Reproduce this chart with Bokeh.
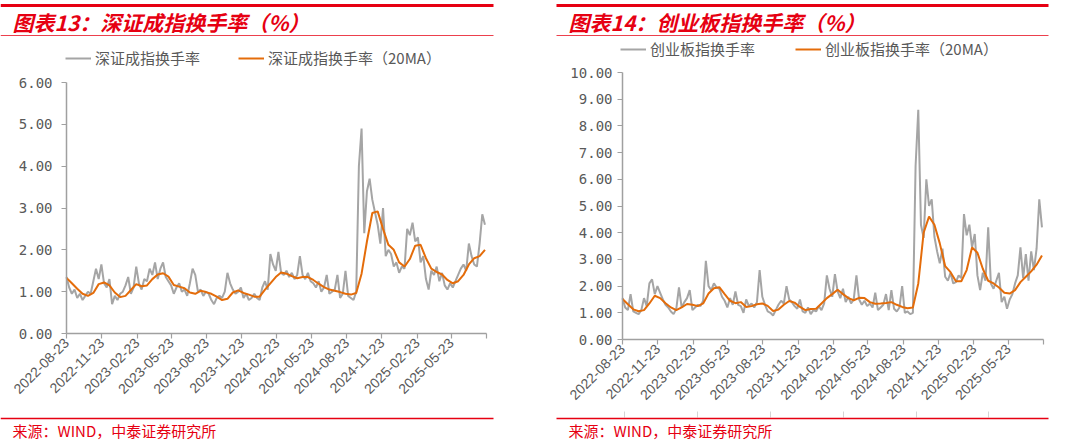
import pandas as pd
from bokeh.plotting import figure
from bokeh.layouts import row
from bokeh.models import (Range1d, FixedTicker, DatetimeTickFormatter, Legend,
                          LegendItem, NumeralTickFormatter, ColumnDataSource)
from bokeh.embed import file_html
from bokeh.resources import INLINE
from bokeh.core.properties import value

# ---------------- data (weekly turnover, bi-weekly 20MA) ----------------
series_start = "2022-08-23"

szcz_turnover = [
    1.35, 1.10, 0.95, 1.05, 0.85, 0.95, 0.80, 0.90, 1.00, 0.95,
    1.25, 1.55, 1.30, 1.65, 1.20, 1.10, 1.30, 0.70, 0.90, 0.80,
    0.95, 1.00, 1.15, 1.35, 0.95, 1.10, 1.60, 1.20, 1.05, 1.30,
    1.25, 1.55, 1.40, 1.70, 1.30, 1.55, 1.70, 1.35, 1.25, 1.15,
    0.95, 1.10, 1.20, 1.00, 1.05, 0.90, 1.20, 1.55, 1.40, 1.00,
    1.05, 0.90, 1.00, 0.95, 0.80, 0.70, 0.85, 0.90, 0.85, 1.00,
    1.45, 1.20, 1.05, 0.95, 1.00, 1.10, 0.85, 0.95, 0.80, 0.85,
    0.95, 0.85, 0.80, 1.10, 1.25, 1.05, 1.90, 1.65, 1.50, 1.95,
    1.45, 1.40, 1.50, 1.35, 1.45, 1.30, 1.40, 1.85, 1.40, 1.30,
    1.45, 1.25, 1.20, 1.10, 1.25, 1.00, 1.10, 1.40, 0.95, 1.00,
    1.05, 1.40, 0.85, 0.95, 1.50, 0.90, 0.85, 0.80, 1.00, 4.00,
    4.90, 2.40, 3.40, 3.70, 3.20, 2.90, 2.60, 2.15, 3.00, 1.85,
    2.00, 1.90, 1.60, 1.70, 1.45, 1.60, 1.55, 2.50, 2.35, 2.65,
    2.20, 2.30, 1.70, 1.85, 1.30, 1.05, 1.50, 1.40, 1.60, 1.25,
    1.45, 1.15, 1.05, 1.20, 1.10, 1.25, 1.40, 1.55, 1.65, 1.50,
    2.15, 1.85, 1.65, 1.60, 2.15, 2.85, 2.60,
]
szcz_ma20 = [
    1.33, 1.20, 1.07, 0.95, 0.90, 0.97, 1.18, 1.22, 1.15, 0.98,
    0.87, 0.90, 1.04, 1.18, 1.13, 1.15, 1.30, 1.41, 1.44, 1.36,
    1.16, 1.12, 1.08, 0.98, 0.95, 1.02, 0.99, 0.95, 0.88, 0.80,
    0.83, 0.98, 1.03, 0.97, 0.93, 0.88, 0.88, 1.05, 1.20, 1.35,
    1.46, 1.43, 1.37, 1.32, 1.35, 1.35, 1.28, 1.19, 1.11, 1.05,
    1.02, 0.99, 0.95, 0.93, 0.97, 1.43, 2.20, 2.88, 2.92, 2.50,
    2.12, 2.00, 1.70, 1.60, 1.78, 2.10, 2.12, 1.80, 1.55, 1.47,
    1.41, 1.28, 1.20, 1.25, 1.40, 1.65, 1.80, 1.85, 2.00,
]
cyb_turnover = [
    1.55, 1.20, 1.10, 1.70, 1.05, 1.00, 0.95, 1.10, 1.55, 1.25,
    2.10, 2.25, 1.70, 2.00, 1.75, 1.50, 1.30, 1.20, 1.05, 0.95,
    1.15, 1.95, 1.20, 1.40, 1.55, 1.85, 1.10, 1.20, 1.30, 1.25,
    1.45, 2.95, 2.00, 1.85, 2.10, 1.95, 1.90, 1.60, 1.45, 1.20,
    1.55, 1.30, 1.80, 1.30, 1.25, 1.00, 1.50, 1.25, 1.35, 1.20,
    1.40, 2.60, 1.60, 1.30, 1.05, 1.00, 0.90, 1.10, 1.30, 1.45,
    1.35, 2.00, 1.50, 1.40, 1.25, 1.15, 1.50, 1.05, 1.00, 1.20,
    0.95, 1.10, 1.05, 1.25, 1.10, 1.35, 2.40, 1.90, 1.60, 2.45,
    1.80, 1.55, 1.90, 1.40, 1.60, 1.35, 1.50, 2.40, 1.50, 1.30,
    1.45, 1.25, 1.35, 1.20, 1.75, 1.10, 1.20, 1.30, 1.70, 1.10,
    1.85, 1.15, 1.05, 1.20, 2.00, 1.00, 1.05, 0.95, 1.00, 6.50,
    8.60, 4.30, 3.80, 6.00, 5.00, 5.25, 3.85, 3.30, 2.85, 3.40,
    2.35, 2.20, 2.50, 2.10, 2.15, 2.40, 2.30, 4.70, 3.90, 4.30,
    3.45, 3.95, 2.40, 1.85, 2.50, 2.20, 4.20, 2.10, 1.90, 2.20,
    2.50, 1.40, 1.60, 1.15, 1.50, 1.70, 2.10, 2.40, 3.45, 2.30,
    3.20, 2.20, 3.30, 2.60, 3.40, 5.25, 4.20,
]
cyb_ma20 = [
    1.52, 1.32, 1.13, 1.06, 1.10, 1.35, 1.64, 1.55, 1.36, 1.20,
    1.10, 1.20, 1.33, 1.30, 1.25, 1.35, 1.72, 1.92, 1.96, 1.70,
    1.45, 1.36, 1.40, 1.22, 1.25, 1.32, 1.35, 1.26, 1.07, 1.12,
    1.30, 1.44, 1.38, 1.22, 1.10, 1.14, 1.15, 1.35, 1.55, 1.70,
    1.86, 1.70, 1.55, 1.47, 1.56, 1.55, 1.40, 1.34, 1.35, 1.37,
    1.40, 1.30, 1.22, 1.17, 1.20, 2.10, 4.00, 4.60, 4.30, 3.60,
    2.75, 2.52, 2.18, 2.18, 2.60, 3.45, 3.25, 2.65, 2.20, 2.10,
    1.95, 1.75, 1.72, 1.85, 2.15, 2.35, 2.55, 2.80, 3.15,
]
tick_dates = ["2022-08-23", "2022-11-23", "2023-02-23", "2023-05-23",
              "2023-08-23", "2023-11-23", "2024-02-23", "2024-05-23",
              "2024-08-23", "2024-11-23", "2025-02-23", "2025-05-23",
              "2025-08-23"]

RED = "#e60012"
GRAY = "#a5a5a5"
ORANGE = "#e46c0a"
TXT = "#595959"
AXC = "#a0a0a0"
CJK = "Noto Sans CJK SC"
H = 440


def panel(W, title, name, turnover, ma, ymax, x0, x1, ytop, ybot,
          rule0, rule1, tx, leg_x, leg_y, leg_sp, ystand, faint_ticks):
    t0 = pd.Timestamp(tick_dates[0]).value / 1e6
    t1 = pd.Timestamp(tick_dates[-1]).value / 1e6
    kx = (t1 - t0) / (x1 - x0)
    ky = ymax / (ybot - ytop)
    p = figure(width=W, height=H, x_axis_type="datetime",
               x_range=Range1d(t0 - x0 * kx, t0 + (W - x0) * kx),
               y_range=Range1d((ybot - H) * ky, ybot * ky),
               toolbar_location=None, output_backend="svg", min_border=0,
               outline_line_color=None)
    p.title.visible = False
    p.extra_x_ranges = {"px": Range1d(0, W)}
    p.extra_y_ranges = {"px": Range1d(H, 0)}

    wk_dates = pd.date_range(series_start, periods=len(turnover), freq="7D")
    ma_dates = pd.date_range(series_start, periods=len(ma), freq="14D")
    src1 = ColumnDataSource(dict(x=list(wk_dates), y=turnover))
    src2 = ColumnDataSource(dict(x=list(ma_dates), y=ma))
    r1 = p.line("x", "y", source=src1, line_color=GRAY, line_width=2)
    r2 = p.line("x", "y", source=src2, line_color=ORANGE, line_width=2)

    p.xgrid.visible = False
    p.ygrid.visible = False

    ticks_ms = [pd.Timestamp(d).value / 1e6 for d in tick_dates]
    xa = p.xaxis[0]
    xa.fixed_location = 0
    xa.bounds = (t0, t1)
    xa.ticker = FixedTicker(ticks=ticks_ms)
    fmt = "%Y-%m-%d"
    xa.formatter = DatetimeTickFormatter(days=fmt, months=fmt, years=fmt, hours=fmt,
                                         minutes=fmt, seconds=fmt, milliseconds=fmt)
    xa.major_label_overrides = {ticks_ms[-1]: ""}
    xa.major_label_orientation = 0.785398
    xa.major_label_text_font = "Liberation Sans"
    xa.major_label_text_font_size = "14px"
    xa.major_label_text_color = TXT
    xa.major_label_standoff = 2

    ya = p.yaxis[0]
    ya.fixed_location = t0
    ya.bounds = (0, ymax)
    ya.ticker = FixedTicker(ticks=list(range(0, ymax + 1)))
    ya.formatter = NumeralTickFormatter(format="0.00")
    ya.major_label_text_font = "DejaVu Sans Mono"
    ya.major_label_text_font_size = "14px"
    ya.major_label_text_color = TXT
    ya.major_label_standoff = ystand

    for ax in (xa, ya):
        ax.axis_line_color = AXC
        ax.axis_line_width = 1.5
        ax.major_tick_line_color = AXC
        ax.major_tick_line_width = 1.2
        ax.major_tick_out = 5
        ax.major_tick_in = 0
        ax.minor_tick_line_color = None

    # header and footer decorations (pixel coordinates)
    kw = dict(x_range_name="px", y_range_name="px")
    p.segment(x0=[rule0], y0=[5], x1=[rule1], y1=[5], line_color=RED, line_width=3, **kw)
    p.segment(x0=[rule0], y0=[35], x1=[rule1], y1=[35], line_color=RED, line_alpha=0.75,
              line_width=1, **kw)
    p.text(x=[tx], y=[21], text=[title], text_font=value(CJK), text_font_size="21px",
           text_font_style="bold italic", text_color=RED, text_baseline="middle", **kw)
    if faint_ticks:
        p.segment(x0=faint_ticks, y0=[411] * len(faint_ticks), x1=faint_ticks,
                  y1=[417] * len(faint_ticks), line_color="#d4d4d4", line_width=1, **kw)
    p.segment(x0=[rule0], y0=[418], x1=[rule1], y1=[418], line_color=RED, line_width=1.5, **kw)
    p.text(x=[tx], y=[430], text=["来源：WIND，中泰证券研究所"], text_font=value(CJK),
           text_font_size="15px", text_color=RED, text_baseline="middle", **kw)

    legend = Legend(items=[LegendItem(label=name, renderers=[r1]),
                           LegendItem(label=name + "（20MA）", renderers=[r2])],
                    orientation="horizontal", location=(leg_x, H - leg_y - 8),
                    label_text_font=CJK, label_text_font_size="15px",
                    label_text_color=TXT, glyph_width=26, glyph_height=16,
                    label_height=16, label_standoff=4, spacing=leg_sp,
                    padding=0, margin=0, border_line_color=None,
                    background_fill_alpha=0)
    p.add_layout(legend)
    return p


left = panel(540, "图表13：深证成指换手率（%）", "深证成指换手率", szcz_turnover, szcz_ma20, 6,
             66, 486, 82, 333, 0, 493, 12, 65, 60, 38, 9, [])
right = panel(540, "图表14：创业板指换手率（%）", "创业板指换手率", cyb_turnover, cyb_ma20, 10,
              82, 503, 72, 339, 16, 508, 28, 80, 51, 40, 5, [84, 157, 230, 303, 376, 448])
layout = row(left, right)

open("out.html", "w").write(file_html(layout, INLINE))
